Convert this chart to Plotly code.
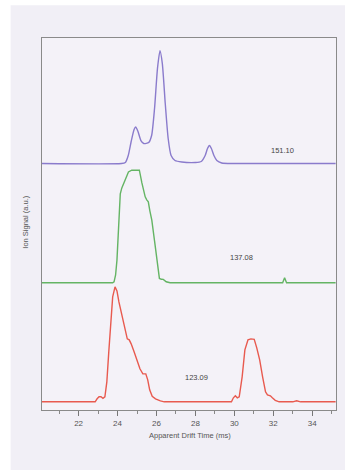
import plotly.graph_objects as go

# ---- data (apparent drift time in ms, ion signal in a.u.) ----
purple_t = [20.1, 24.2, 24.4, 24.55, 24.7, 24.85, 24.93, 25.05, 25.2, 25.35, 25.6, 25.75, 25.9, 26.05,
            26.18, 26.3, 26.45, 26.6, 26.75, 26.95, 27.3, 28.0, 28.3, 28.5, 28.62, 28.72, 28.82, 28.95,
            29.1, 29.35, 30.0, 35.2]
purple_s = [0, 0, 1, 8, 22, 34, 36.6, 32, 23, 20, 21, 28, 55, 95,
            113, 100, 60, 25, 8, 3, 1.5, 1, 2, 8, 15, 18, 15, 8,
            3, 0.5, 0, 0]

green_t = [20.1, 23.75, 23.82, 23.9, 23.97, 24.05, 24.14, 24.22, 24.3, 24.45, 24.56, 24.73, 24.9,
           25.12, 25.25, 25.42, 25.5, 25.58, 25.66, 25.76, 25.9, 26.01, 26.08, 26.15, 26.25, 26.35,
           26.5, 26.7, 32.48, 32.58, 32.68, 35.2]
green_s = [0, 0, 1, 8, 22.7, 55, 89, 95, 99, 105, 111, 112.7, 113,
           112.7, 100, 86, 83, 81, 72, 62.7, 42, 22.7, 12, 4.4, 3.5, 3.4,
           1, 0, 0, 5, 0, 0]

red_t = [20.1, 22.85, 22.95, 23.05, 23.15, 23.25, 23.35, 23.45, 23.55, 23.65, 23.75, 23.87, 23.97,
         24.07, 24.2, 24.35, 24.5, 24.6, 24.7, 24.85, 25.0, 25.15, 25.3, 25.45, 25.55, 25.65, 25.78,
         25.95, 26.2, 26.4, 29.85, 29.95, 30.05, 30.15, 30.25, 30.4, 30.54, 30.7, 30.85, 31.02, 31.15,
         31.3, 31.45, 31.6, 31.7, 31.85, 31.95, 32.1, 32.3, 33.0, 33.2, 33.4, 35.2]
red_s = [0, 0, 3, 5, 5, 3.5, 5, 20, 50, 80, 105, 115, 111,
         100, 88, 75, 63, 62, 58, 50, 42, 33, 28, 28, 22, 12, 5.5,
         3, 1, 0, 0, 4, 6, 4, 5, 25, 52, 62, 63, 62.5, 54,
         42, 25, 10, 7, 6, 4, 1.5, 0, 0, 1, 0, 0]

series_labels = ["151.10", "137.08", "123.09"]
label_x = [32.48, 30.37, 28.06]

x_tickvals = [22, 24, 26, 28, 30, 32, 34]
x_ticktext = ["22", "24", "26", "28", "30", "32", "34"]

# ---- styling / stacking offsets ----
offsets = [246.7, 127.3, 8.2]
colors = ["#8a7bcc", "#64b464", "#e85a4f"]
label_y_off = [13.3, 25.4, 24.1]

PANEL = "#f1eff6"
TXT = "#555555"
FONT = "Liberation Sans, Arial, sans-serif"

fig = go.Figure()
data = [(purple_t, purple_s, "spline"), (green_t, green_s, "linear"), (red_t, red_s, "linear")]
for (t, s, shape), off, c in zip(data, offsets, colors):
    fig.add_trace(go.Scatter(x=t, y=[v + off for v in s], mode="lines",
                             line=dict(color=c, width=1.4, shape=shape, smoothing=0.6),
                             showlegend=False, hoverinfo="skip"))

for lab, lx, off, dy in zip(series_labels, label_x, offsets, label_y_off):
    fig.add_annotation(x=lx, y=off + dy, text=lab, showarrow=False,
                       xanchor="center", yanchor="middle",
                       font=dict(size=7.5, color="#444444", family=FONT))

W, H = 345, 470
L, R, T, B = 41.5, 8.5, 37.7, 60
pw, ph = W - L - R, H - T - B

def px(xp):
    return (xp - L) / pw

def py(yp):
    return (H - B - yp) / ph

# white strips outside the lavender panel
fig.add_shape(type="rect", xref="paper", yref="paper", x0=px(-5), x1=px(10), y0=py(480), y1=py(-10),
              fillcolor="white", line_width=0, layer="below")
fig.add_shape(type="rect", xref="paper", yref="paper", x0=px(-5), x1=px(350), y0=py(5), y1=py(-10),
              fillcolor="white", line_width=0, layer="below")

fig.add_annotation(xref="paper", yref="paper", x=px(190), y=py(436), text="Apparent Drift Time (ms)",
                   xanchor="center", yanchor="middle",
                   showarrow=False, font=dict(size=7.5, color=TXT, family=FONT))
fig.add_annotation(xref="paper", yref="paper", x=px(25), y=py(222), text="Ion Signal (a.u.)",
                   xanchor="center", yanchor="middle",
                   textangle=-90, showarrow=False, font=dict(size=7.5, color=TXT, family=FONT))

fig.update_layout(
    width=W, height=H,
    margin=dict(l=L, r=R, t=T, b=B, pad=0),
    paper_bgcolor=PANEL, plot_bgcolor="#f4f2f8",
    font=dict(family=FONT, color=TXT, size=8),
    xaxis=dict(range=[20.12, 35.22], tickvals=x_tickvals, ticktext=x_ticktext,
               ticks="outside", ticklen=5, tickwidth=1, tickcolor="#777777",
               minor=dict(tickvals=[21, 23, 25, 27, 29, 31, 33, 35], ticks="outside", ticklen=3,
                          tickcolor="#888888", showgrid=False),
               showline=True, linecolor="#8a8a8a", linewidth=1, mirror=True,
               showgrid=False, zeroline=False, tickfont=dict(size=8, color=TXT)),
    yaxis=dict(range=[0, 372.3], showticklabels=False, ticks="",
               showline=True, linecolor="#8a8a8a", linewidth=1, mirror=True,
               showgrid=False, zeroline=False),
)

fig.write_html("out.html", config={"displayModeBar": False},
               post_script="document.body.style.margin='0';")
